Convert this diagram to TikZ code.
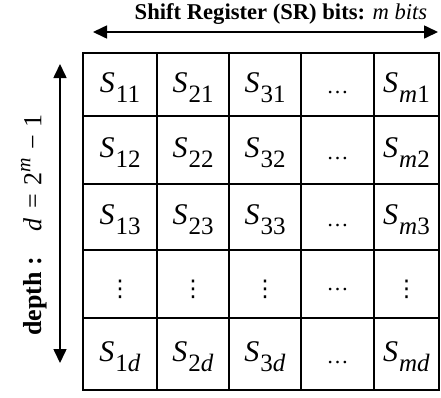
\documentclass[tikz,border=0pt]{standalone}
\usepackage{fontspec}
\setmainfont{Liberation Serif}
\newfontfamily\symfont{DejaVu Sans}
\usetikzlibrary{arrows.meta}
\newcommand{\cellS}[1]{{\fontsize{30}{30}\selectfont\itshape S}\kern1pt\raisebox{-10pt}{\fontsize{25}{25}\selectfont #1}}
\begin{document}
\begin{tikzpicture}[x=1pt,y=-1pt,
  hdotsnode/.style={anchor=base, inner sep=0pt, font=\fontsize{22}{22}\selectfont},
  vdotsnode/.style={anchor=center, inner sep=0pt, font=\symfont\fontsize{23}{23}\selectfont},
  dimarrow/.style={line width=1.6pt, {Triangle[length=14pt,width=13pt]}-{Triangle[length=14pt,width=13pt]}}]
\useasboundingbox (0,0) rectangle (441,397);
\def\xs{{83,157,229,301,374,439}}
\def\ys{{53,116,184,250,318,390}}
\foreach \c/\name in {0/a,1/b,2/c,3/d,4/e}{
  \foreach \r/\rn in {0/1,1/2,2/3,3/4,4/5}{
    \pgfmathsetmacro{\xl}{\xs[\c]}
    \pgfmathsetmacro{\xr}{\xs[\c+1]}
    \pgfmathsetmacro{\yt}{\ys[\r]}
    \pgfmathsetmacro{\yb}{\ys[\r+1]}
    \node[draw, line width=1.6pt, inner sep=0pt, minimum width={\xr-\xl}, minimum height={\yb-\yt}] (\name\rn) at ({(\xl+\xr)/2},{(\yt+\yb)/2}) {};
  }
}
% contents
\node at ([yshift=-3pt]a1.center) {\cellS{11}};
\node at ([yshift=-3pt]b1.center) {\cellS{21}};
\node at ([yshift=-3pt]c1.center) {\cellS{31}};
\node[hdotsnode] at ([yshift=-9pt]d1.center) {…};
\node at ([yshift=-3pt]e1.center) {\cellS{\textit{m}1}};
\node at ([yshift=-3pt]a2.center) {\cellS{12}};
\node at ([yshift=-3pt]b2.center) {\cellS{22}};
\node at ([yshift=-3pt]c2.center) {\cellS{32}};
\node[hdotsnode] at ([yshift=-9pt]d2.center) {…};
\node at ([yshift=-3pt]e2.center) {\cellS{\textit{m}2}};
\node at ([yshift=-3pt]a3.center) {\cellS{13}};
\node at ([yshift=-3pt]b3.center) {\cellS{23}};
\node at ([yshift=-3pt]c3.center) {\cellS{33}};
\node[hdotsnode] at ([yshift=-9pt]d3.center) {…};
\node at ([yshift=-3pt]e3.center) {\cellS{\textit{m}3}};
\node[vdotsnode] at ([yshift=-5pt]a4.center) {⋮};
\node[vdotsnode] at ([yshift=-5pt]b4.center) {⋮};
\node[vdotsnode] at ([yshift=-5pt]c4.center) {⋮};
\node[hdotsnode] at ([yshift=-6pt]d4.center) {…};
\node[vdotsnode] at ([yshift=-5pt]e4.center) {⋮};
\node at ([yshift=-3pt]a5.center) {\cellS{1\textit{d}}};
\node at ([yshift=-3pt]b5.center) {\cellS{2\textit{d}}};
\node at ([yshift=-3pt]c5.center) {\cellS{3\textit{d}}};
\node[hdotsnode] at ([yshift=-9pt]d5.center) {…};
\node at ([yshift=-3pt]e5.center) {\cellS{\textit{m}\textit{d}}};
% title and arrows
\node (title) at (281,14) {\fontsize{22.6}{23}\selectfont\textbf{Shift Register (SR) bits:} \textit{m bits}};
\coordinate (hl) at (93,32);
\coordinate (hr) at (438,32);
\draw[dimarrow] (hl) -- (hr);
\coordinate (vt) at (60,64);
\coordinate (vb) at (60,363);
\draw[dimarrow] (vt) -- (vb);
\node[rotate=90] (depth) at (34,225) {\fontsize{26}{26}\selectfont\textbf{depth :}\hspace{26pt}\textit{d}\hspace{9pt}=\hspace{9pt}2\raisebox{11pt}{\fontsize{20}{20}\selectfont\textit{m}}\hspace{8pt}−\hspace{8pt}1};
\end{tikzpicture}
\end{document}
